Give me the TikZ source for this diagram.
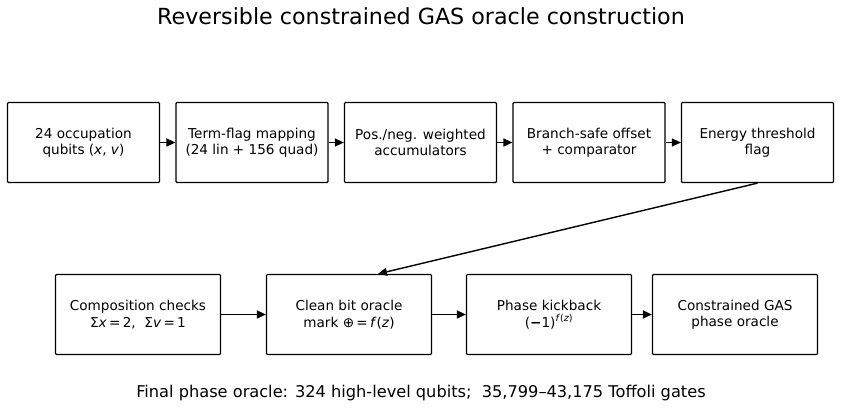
\documentclass[tikz,border=0pt]{standalone}
\usepackage{fontspec}
\setmainfont{DejaVu Sans}
\usetikzlibrary{arrows.meta,positioning}

\begin{document}
\begin{tikzpicture}[x=1pt,y=-1pt,
      node distance=15.3pt,
      box/.style={draw,rounded corners=1pt,align=center,line width=1.2pt,
                  minimum height=80pt,inner sep=2pt,
                  font=\fontsize{13.6}{16.5}\selectfont},
      topbox/.style={box,minimum width=152pt},
      lowbox/.style={box,minimum width=165pt},
      arr/.style={-{Triangle[length=9pt,width=8pt]},line width=1.4pt}]
    \useasboundingbox (0,0) rectangle (842,408);
    \node[font=\fontsize{22.2}{26}\selectfont] (title) at (421,16)
      {Reversible constrained GAS oracle construction};

    % top row: encoding and energy flag
    \node[topbox] (occ) at (83.5,142.5) {24 occupation\\qubits (\textit{x}, \textit{v})};
    \node[topbox,right=of occ] (flags) {Term-flag mapping\\(24 lin + 156 quad)};
    \node[topbox,right=of flags] (accum) {Pos./neg. weighted\\accumulators};
    \node[topbox,right=of accum] (comp) {Branch-safe offset\\+ comparator};
    \node[topbox,right=of comp] (energy) {Energy threshold\\flag};
    \draw[arr] (occ) -- (flags);
    \draw[arr] (flags) -- (accum);
    \draw[arr] (accum) -- (comp);
    \draw[arr] (comp) -- (energy);

    % bottom row: oracle assembly
    \node[lowbox] (checks) at (138,314.5)
      {Composition checks\\Σ\textit{x}\,=\,2,\ \ Σ\textit{v}\,=\,1};
    \node[lowbox] (clean) at (349,314.5) {Clean bit oracle\\mark ⊕\,=\,\textit{f}(\textit{z})};
    \node[lowbox] (kick) at (549,314.5)
      {Phase kickback\\(\textbf{−}1)\textsuperscript{\textit{f}(\textit{z})}};
    \node[lowbox] (oracle) at (735,314.5) {Constrained GAS\\phase oracle};
    \draw[arr] (energy.south) -- ([xshift=29pt]clean.north);
    \draw[arr] (checks) -- (clean);
    \draw[arr] (clean) -- (kick);
    \draw[arr] (kick) -- (oracle);

    \node[font=\fontsize{16.2}{19}\selectfont] (summary) at (421,393)
      {Final phase oracle: 324 high-level qubits;\ \ 35,799–43,175 Toffoli gates};
  \end{tikzpicture}
\end{document}
